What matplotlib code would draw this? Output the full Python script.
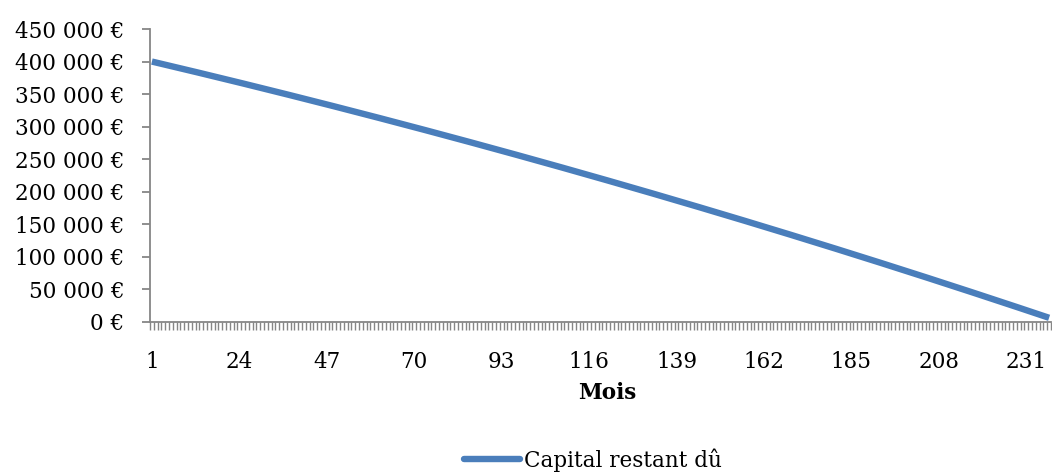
import matplotlib
matplotlib.use("Agg")
import matplotlib.pyplot as plt
from matplotlib.ticker import FixedLocator, FuncFormatter

# Remaining principal ("Capital restant dû") at the start of each month, months 1..237
capital = [
    400000, 398624, 397245, 395864, 394480, 393094, 391705, 390314, 388921, 387525,
    386126, 384725, 383321, 381915, 380507, 379096, 377683, 376267, 374848, 373427,
    372004, 370578, 369150, 367719, 366286, 364850, 363412, 361971, 360528, 359082,
    357634, 356183, 354730, 353275, 351817, 350356, 348893, 347427, 345959, 344489,
    343016, 341541, 340063, 338582, 337099, 335614, 334126, 332636, 331143, 329648,
    328150, 326650, 325147, 323642, 322134, 320624, 319111, 317596, 316079, 314559,
    313036, 311511, 309983, 308453, 306921, 305386, 303849, 302309, 300766, 299221,
    297674, 296124, 294572, 293017, 291460, 289900, 288338, 286773, 285206, 283636,
    282064, 280489, 278912, 277333, 275751, 274166, 272579, 270989, 269397, 267803,
    266206, 264607, 263005, 261400, 259793, 258184, 256572, 254958, 253341, 251722,
    250100, 248476, 246849, 245220, 243588, 241954, 240317, 238678, 237037, 235393,
    233746, 232097, 230445, 228791, 227135, 225476, 223815, 222151, 220484, 218815,
    217144, 215470, 213794, 212115, 210434, 208750, 207064, 205375, 203684, 201990,
    200294, 198595, 196894, 195191, 193485, 191776, 190065, 188351, 186635, 184917,
    183196, 181473, 179747, 178018, 176287, 174554, 172818, 171080, 169339, 167596,
    165850, 164102, 162351, 160598, 158842, 157084, 155323, 153560, 151795, 150027,
    148256, 146483, 144707, 142929, 141149, 139366, 137581, 135793, 134002, 132209,
    130414, 128616, 126816, 125013, 123208, 121400, 119590, 117777, 115962, 114144,
    112324, 110501, 108676, 106849, 105019, 103186, 101351, 99513, 97673, 95831,
    93986, 92139, 90289, 88436, 86581, 84724, 82864, 81002, 79137, 77270,
    75400, 73528, 71653, 69776, 67896, 66014, 64129, 62242, 60353, 58461,
    56566, 54669, 52769, 50867, 48963, 47056, 45147, 43235, 41320, 39403,
    37484, 35562, 33638, 31711, 29782, 27850, 25916, 23979, 22040, 20098,
    18154, 16207, 14258, 12307, 10353, 8396, 6437,
]
months = list(range(1, len(capital) + 1))
month_labels = [1, 24, 47, 70, 93, 116, 139, 162, 185, 208, 231]
y_ticks = [0, 50000, 100000, 150000, 200000, 250000, 300000, 350000, 400000, 450000]

FONT = "DejaVu Serif"
FS = 15.5
BLUE = "#4A7EBB"
AXIS_GREY = "#868686"

plt.rcParams["font.family"] = [FONT, "DejaVu Sans"]

fig = plt.figure(figsize=(10.52, 4.75), dpi=100)
ax = fig.add_axes([150 / 1052, 153 / 475, 901 / 1052, 293 / 475])

line, = ax.plot(months, capital, color=BLUE, lw=4.6, solid_capstyle="butt",
                label="Capital restant dû", clip_on=False)

ax.set_xlim(0.5, len(months) + 0.5)
ax.set_ylim(0, 450000)

for s in ("top", "right"):
    ax.spines[s].set_visible(False)
for s in ("left", "bottom"):
    ax.spines[s].set_color(AXIS_GREY)
    ax.spines[s].set_linewidth(1.3)

def euro(v, _):
    return f"{int(v):,}".replace(",", " ") + " €" if v else "0 €"

ax.yaxis.set_major_locator(FixedLocator(y_ticks))
ax.yaxis.set_major_formatter(FuncFormatter(euro))
ax.tick_params(axis="y", direction="out", length=5.5, width=1.3, color=AXIS_GREY,
               pad=13, labelsize=FS, labelcolor="black")

# category labels without marks, marks sit between categories
ax.xaxis.set_major_locator(FixedLocator(month_labels))
ax.xaxis.set_minor_locator(FixedLocator([m + 0.5 for m in [0] + months]))
ax.tick_params(axis="x", which="major", length=0, pad=21, labelsize=FS, labelcolor="black")
ax.tick_params(axis="x", which="minor", direction="out", length=5.5, width=1.0, color=AXIS_GREY)

fig.text(607 / 1052, 1 - 393 / 475, "Mois", ha="center", va="center",
         fontsize=FS, fontweight="bold")

leg = fig.legend(handles=[line], loc="center", bbox_to_anchor=(593 / 1052, 1 - 460 / 475),
                 frameon=False, fontsize=FS, handlelength=2.6, handletextpad=0.15,
                 borderaxespad=0)
for h in leg.legend_handles:
    h.set_solid_capstyle("round")

fig.savefig("out.png", dpi=100)
